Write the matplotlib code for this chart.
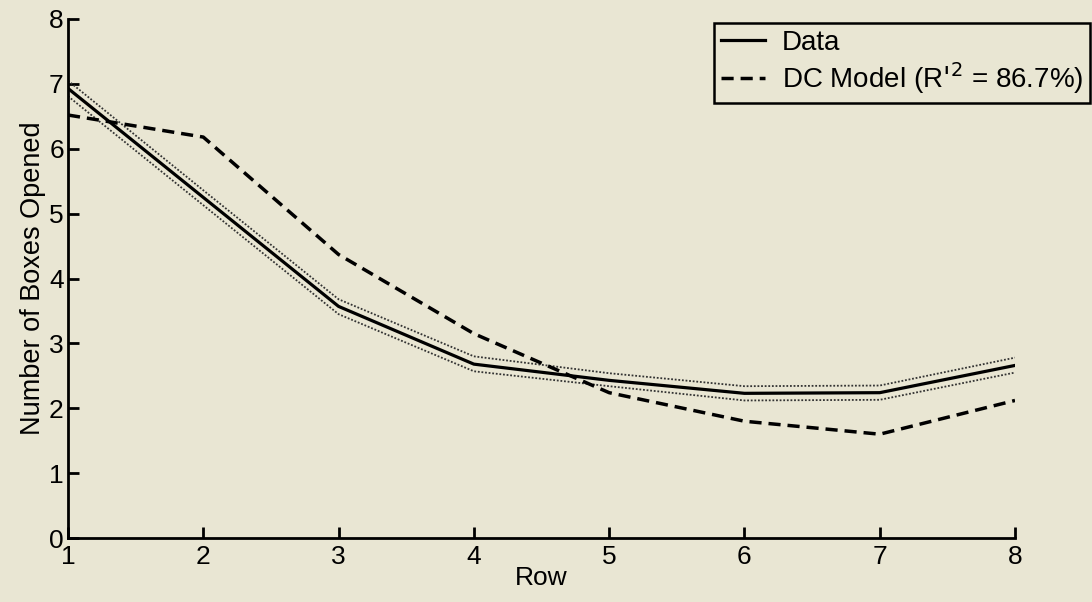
import matplotlib

matplotlib.use("Agg")
import matplotlib.pyplot as plt

plt.rcParams["font.family"] = ["Liberation Sans", "DejaVu Sans"]

# valeurs
rows = [1, 2, 3, 4, 5, 6, 7, 8]
data = [6.93, 5.25, 3.57, 2.68, 2.43, 2.23, 2.24, 2.66]
data_hi = [7.05, 5.36, 3.68, 2.80, 2.54, 2.34, 2.35, 2.78]
data_lo = [6.81, 5.13, 3.45, 2.57, 2.34, 2.12, 2.13, 2.55]
dc_model = [6.52, 6.18, 4.37, 3.15, 2.24, 1.80, 1.60, 2.12]
yticks = [0, 1, 2, 3, 4, 5, 6, 7, 8]

BG = "#e9e6d3"

fig = plt.figure(figsize=(10.92, 6.02), dpi=100, facecolor=BG)
ax = fig.add_axes([68 / 1092, 1 - 538 / 602, (1015 - 68) / 1092, (538 - 19) / 602])
ax.set_facecolor(BG)

ax.plot(rows, data_hi, color="#333333", lw=1.3, ls=(0, (1, 1)))
ax.plot(rows, data_lo, color="#333333", lw=1.3, ls=(0, (1, 1)))
ax.plot(rows, data, color="black", lw=2.3, label="Data")
ax.plot(rows, dc_model, color="black", lw=2.5, ls=(0, (3.5, 2)),
        label="DC Model (R$'^2$ = 86.7%)")

ax.set_xlim(1, 8)
ax.set_ylim(0, 8)
ax.set_xticks(rows)
ax.set_yticks(yticks)
for s in ["top", "right"]:
    ax.spines[s].set_visible(False)
for s in ["left", "bottom"]:
    ax.spines[s].set_linewidth(2)
ax.tick_params(direction="in", length=8, width=2, labelsize=19)
ax.tick_params(axis="x", pad=5)
ax.tick_params(axis="y", pad=3)
ax.set_xlabel("Row", fontsize=19, labelpad=-2)
ax.set_ylabel("Number of Boxes Opened", fontsize=19.5, labelpad=2)

leg = ax.legend(loc="upper right", bbox_to_anchor=(1090 / 1092, 1 - 23 / 602),
                bbox_transform=fig.transFigure, fontsize=20, frameon=True,
                fancybox=False, handlelength=1.6, borderpad=0.25,
                labelspacing=0.15, handletextpad=0.6, borderaxespad=0)
leg.get_frame().set_edgecolor("black")
leg.get_frame().set_linewidth(1.8)
leg.get_frame().set_facecolor(BG)
leg.get_frame().set_alpha(1)

fig.savefig("out.png", dpi=100, facecolor=BG)
